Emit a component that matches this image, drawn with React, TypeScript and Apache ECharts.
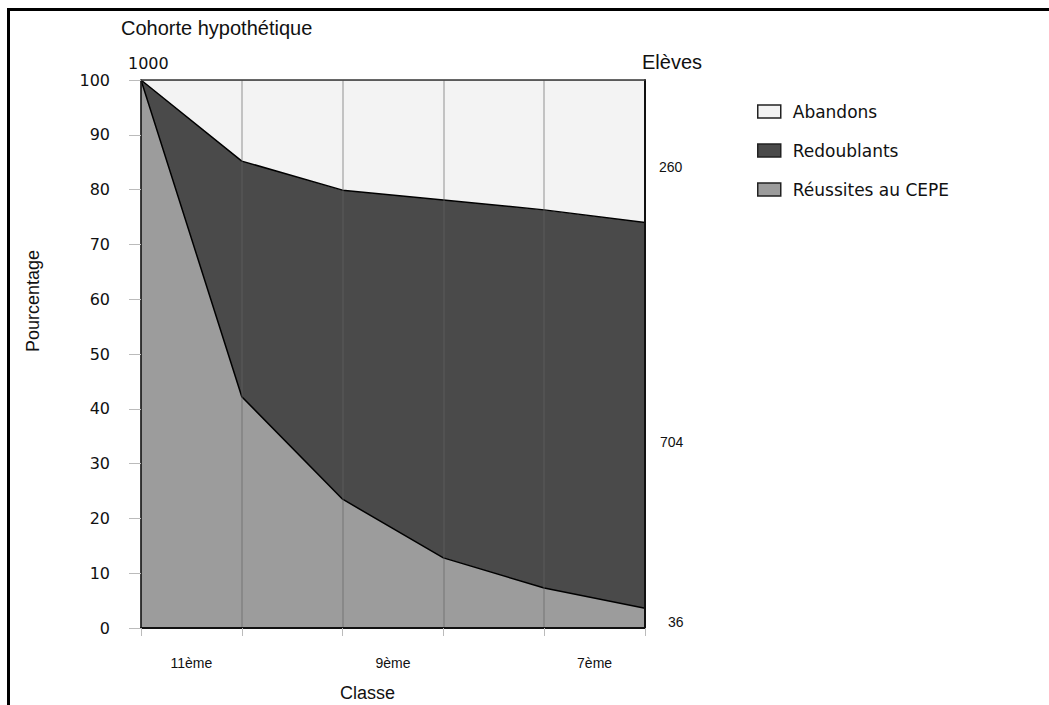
import React, { useEffect, useRef } from "react";
import * as echarts from "echarts";

// Stage boundaries (points along the cohort path)
const points = ["t0", "t1", "t2", "t3", "t4", "t5"];
// Class labels, centred on every other interval
const classLabels = ["11ème", "", "9ème", "", "7ème"];
// Percentages (stacked from bottom to top)
const reussites = [100, 42.2, 23.5, 12.8, 7.3, 3.6];
const redoublants = [0, 43.0, 56.4, 65.3, 69.0, 70.4];
const abandons = [0, 14.8, 20.1, 21.9, 23.7, 26.0];
// Final number of pupils per group (out of 1000)
const elevesAbandons = 260;
const elevesRedoublants = 704;
const elevesReussites = 36;

const SANS = "Liberation Sans";
const WIDE = "DejaVu Sans";

export default function App() {
  const ref = useRef<HTMLDivElement>(null);
  useEffect(() => {
    if (!ref.current) return;
    const chart = echarts.init(ref.current, null, { renderer: "svg" });
    const endLbl = (txt: number, dx: number, dy: number) => ({
      show: true,
      formatter: () => String(txt),
      offset: [dx, dy],
      distance: 0,
      fontFamily: SANS,
      fontSize: 14,
      color: "#111",
      align: "left",
      verticalAlign: "middle",
    });
    chart.setOption({
      animation: false,
      backgroundColor: "#fff",
      title: [
        { text: "Cohorte hypothétique", left: 121, top: 18, padding: 0, textStyle: { fontFamily: SANS, fontSize: 20, fontWeight: "normal", color: "#111" } },
        { text: "1000", left: 128, top: 55, padding: 0, textStyle: { fontFamily: WIDE, fontSize: 16, fontWeight: "normal", color: "#111" } },
        { text: "Elèves", left: 642, top: 52, padding: 0, textStyle: { fontFamily: SANS, fontSize: 20, fontWeight: "normal", color: "#111" } },
        { text: "Classe", left: 340, top: 684, padding: 0, textStyle: { fontFamily: SANS, fontSize: 18, fontWeight: "normal", color: "#111" } },
      ],
      graphic: [
        {
          type: "text",
          x: 33,
          y: 301,
          rotation: Math.PI / 2,
          style: { text: "Pourcentage", font: `18px "${SANS}"`, align: "center", verticalAlign: "middle", fill: "#111" },
        },
      ],
      legend: {
        orient: "vertical",
        left: 757,
        top: 103,
        padding: 0,
        itemWidth: 23,
        itemHeight: 13,
        itemGap: 22,
        icon: "rect",
        selectedMode: false,
        textStyle: { fontFamily: WIDE, fontSize: 17, color: "#111", padding: [0, 0, 0, 7] },
        data: [
          { name: "Abandons", itemStyle: { color: "#f3f3f3", borderColor: "#222", borderWidth: 1.5 } },
          { name: "Redoublants", itemStyle: { color: "#4a4a4a", borderColor: "#222", borderWidth: 1.5 } },
          { name: "Réussites au CEPE", itemStyle: { color: "#9c9c9c", borderColor: "#222", borderWidth: 1.5 } },
        ],
      },
      grid: { left: 141, top: 80, width: 504, height: 548, show: true, backgroundColor: "#f3f3f3", borderWidth: 0 },
      xAxis: [
        {
          type: "category",
          data: points,
          boundaryGap: false,
          z: 10,
          axisLine: { lineStyle: { color: "#111", width: 2 } },
          axisTick: { show: true, length: 8, interval: 0, lineStyle: { color: "#bbb" } },
          axisLabel: { show: false, interval: 0 },
          splitLine: { show: true, interval: 0, lineStyle: { color: "rgba(100,100,100,0.45)", width: 1.5 } },
        },
        {
          type: "category",
          data: classLabels,
          boundaryGap: true,
          position: "bottom",
          axisLine: { show: false },
          axisTick: { show: false },
          axisLabel: { interval: 0, margin: 28, fontFamily: SANS, fontSize: 14, color: "#111" },
          splitLine: { show: false },
        },
        {
          type: "category",
          data: points,
          boundaryGap: false,
          position: "top",
          z: 10,
          axisLine: { lineStyle: { color: "#444", width: 1.5 } },
          axisTick: { show: false },
          axisLabel: { show: false },
          splitLine: { show: false },
        },
      ],
      yAxis: [
        {
          type: "value",
          min: 0,
          max: 100,
          interval: 10,
          z: 10,
          axisLine: { show: true, lineStyle: { color: "#111", width: 1.5 } },
          axisTick: { show: true, length: 12, lineStyle: { color: "#bbb" } },
          axisLabel: { margin: 31, fontFamily: WIDE, fontSize: 16, color: "#111" },
          splitLine: { show: false },
        },
        {
          type: "value",
          min: 0,
          max: 100,
          interval: 10,
          position: "right",
          z: 10,
          axisLine: { show: true, lineStyle: { color: "#111", width: 2 } },
          axisTick: { show: false },
          axisLabel: { show: false },
          splitLine: { show: false },
        },
      ],
      series: [
        {
          name: "Réussites au CEPE",
          type: "line",
          stack: "total",
          data: reussites,
          symbol: "none",
          z: 2,
          lineStyle: { color: "#000", width: 1.5 },
          areaStyle: { color: "#9c9c9c", opacity: 1 },
          itemStyle: { color: "#9c9c9c" },
          endLabel: endLbl(elevesReussites, 23, 14),
        },
        {
          name: "Redoublants",
          type: "line",
          stack: "total",
          data: redoublants,
          symbol: "none",
          z: 2,
          lineStyle: { color: "#000", width: 1.5 },
          areaStyle: { color: "#4a4a4a", opacity: 1 },
          itemStyle: { color: "#4a4a4a" },
          endLabel: endLbl(elevesRedoublants, 15, 220),
        },
        {
          name: "Abandons",
          type: "line",
          stack: "total",
          data: abandons,
          symbol: "none",
          z: 2,
          lineStyle: { color: "#444", width: 1 },
          areaStyle: { color: "#f3f3f3", opacity: 1 },
          itemStyle: { color: "#f3f3f3" },
          endLabel: endLbl(elevesAbandons, 14, 87),
        },
      ],
    });
    return () => chart.dispose();
  }, []);
  return (
    <div style={{ position: "fixed", left: 0, top: 0, width: 1049, height: 705, background: "#fff" }}>
      <div ref={ref} style={{ position: "absolute", left: 0, top: 0, width: 1049, height: 705 }} />
      <div
        style={{
          position: "absolute",
          left: 7,
          top: 8,
          width: 1042,
          height: 697,
          boxSizing: "border-box",
          borderTop: "3px solid #000",
          borderLeft: "3px solid #000",
          pointerEvents: "none",
        }}
      />
    </div>
  );
}
